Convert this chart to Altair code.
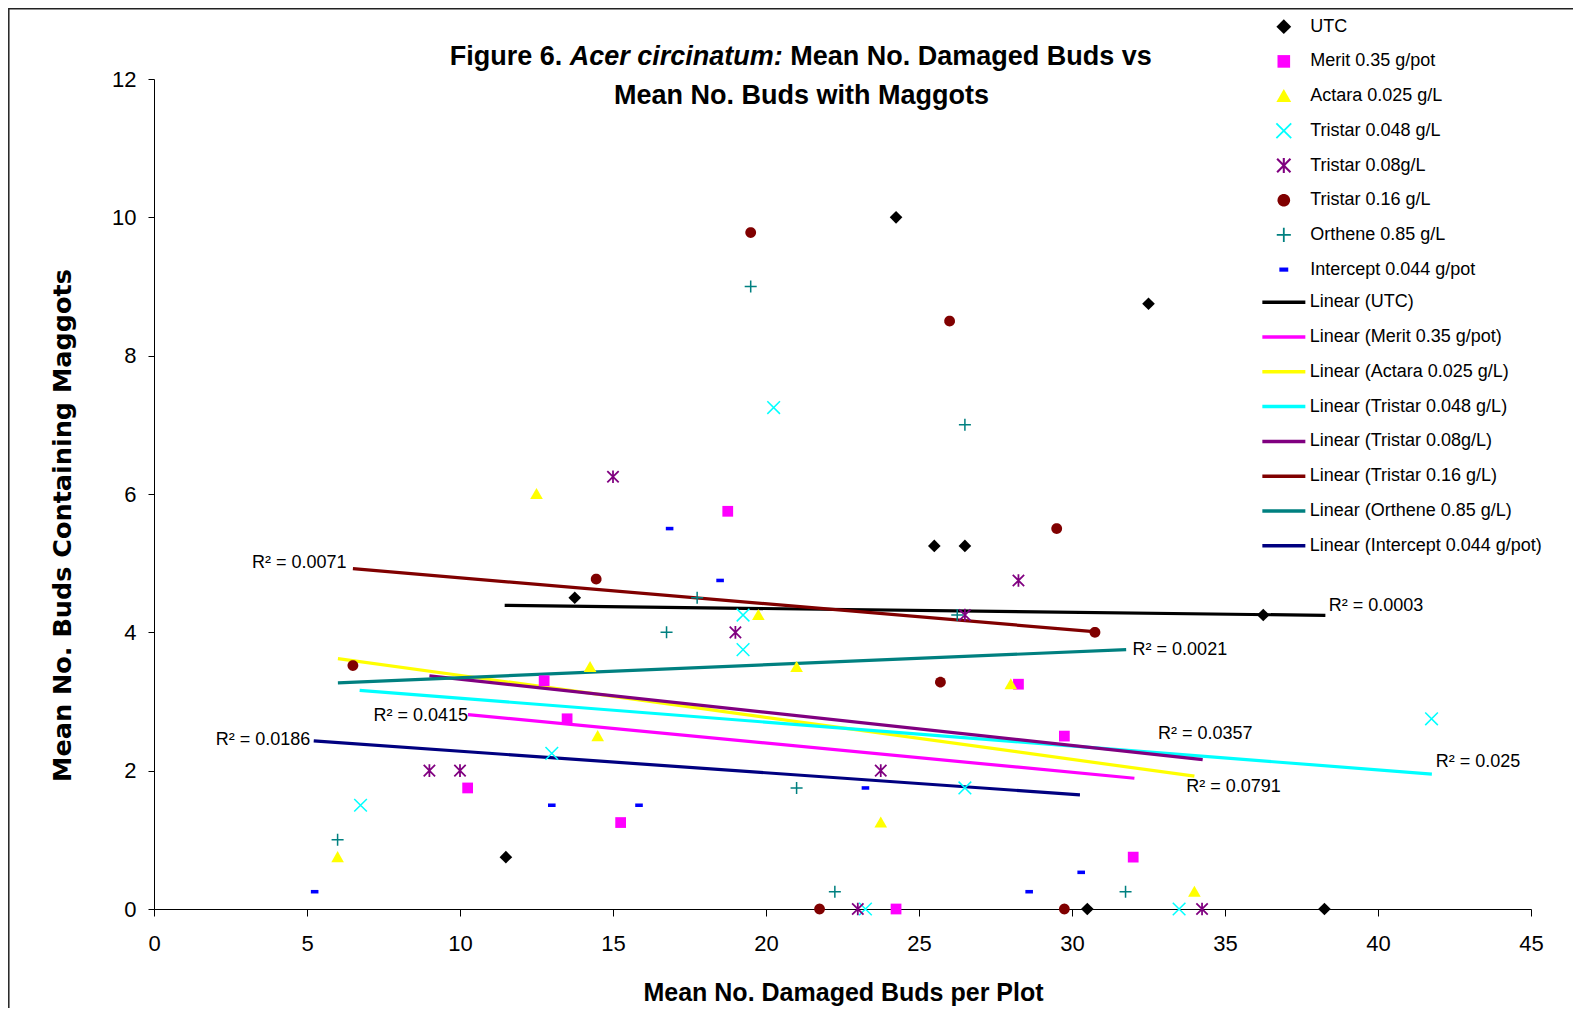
import math
import altair as alt
import pandas as pd

# ---------------- data ----------------
series_names = ["UTC", "Merit 0.35 g/pot", "Actara 0.025 g/L", "Tristar 0.048 g/L",
                "Tristar 0.08g/L", "Tristar 0.16 g/L", "Orthene 0.85 g/L",
                "Intercept 0.044 g/pot"]
trend_names = ["Linear (" + s + ")" for s in series_names]
point_colors = ["#000000", "#FF00FF", "#FFFF00", "#00FFFF", "#800080", "#800000",
                "#008080", "#0000FF"]
line_colors = ["#000000", "#FF00FF", "#FFFF00", "#00FFFF", "#800080", "#800000",
               "#008080", "#000080"]

utc_x = [11.5, 13.75, 24.25, 25.5, 26.5, 30.5, 32.5, 36.25, 38.25]
utc_y = [0.75, 4.5, 10.0, 5.25, 5.25, 0.0, 8.75, 4.25, 0.0]
merit_x = [10.25, 12.75, 13.5, 15.25, 18.75, 24.25, 28.25, 29.75, 32.0]
merit_y = [1.75, 3.3, 2.75, 1.25, 5.75, 0.0, 3.25, 2.5, 0.75]
actara_x = [6.0, 12.5, 14.25, 14.5, 19.75, 21.0, 23.75, 28.0, 34.0]
actara_y = [0.75, 6.0, 3.5, 2.5, 4.25, 3.5, 1.25, 3.25, 0.25]
tri048_x = [6.75, 13.0, 19.25, 19.25, 20.25, 23.25, 26.5, 33.5, 41.75]
tri048_y = [1.5, 2.25, 4.25, 3.75, 7.25, 0.0, 1.75, 0.0, 2.75]
tri08_x = [9.0, 10.0, 15.0, 19.0, 23.0, 23.75, 26.5, 28.25, 34.25]
tri08_y = [2.0, 2.0, 6.25, 4.0, 0.0, 2.0, 4.25, 4.75, 0.0]
tri16_x = [6.5, 14.45, 19.5, 21.75, 25.7, 26.0, 29.5, 29.75, 30.75]
tri16_y = [3.52, 4.77, 9.78, 0.0, 3.28, 8.5, 5.5, 0.0, 4.0]
orthene_x = [6.0, 16.75, 17.75, 19.5, 21.0, 22.25, 26.25, 26.5, 31.75]
orthene_y = [1.0, 4.0, 4.5, 9.0, 1.75, 0.25, 4.25, 7.0, 0.25]
intercept_x = [5.25, 13.0, 15.85, 16.85, 18.5, 23.25, 28.6, 30.3]
intercept_y = [0.25, 1.5, 1.5, 5.5, 4.75, 1.75, 0.25, 0.53]

all_x = [utc_x, merit_x, actara_x, tri048_x, tri08_x, tri16_x, orthene_x, intercept_x]
all_y = [utc_y, merit_y, actara_y, tri048_y, tri08_y, tri16_y, orthene_y, intercept_y]

# trendline end points (as drawn in the picture)
trend_x0 = [11.46, 10.26, 6.01, 6.72, 9.0, 6.5, 6.01, 5.22]
trend_y0 = [4.39, 2.81, 3.62, 3.16, 3.37, 4.92, 3.27, 2.43]
trend_x1 = [38.28, 32.04, 34.0, 41.76, 34.27, 30.71, 31.77, 30.26]
trend_y1 = [4.245, 1.89, 1.92, 1.95, 2.16, 4.01, 3.75, 1.65]

# R^2 labels
r2_left_text = ["R\u00b2 = 0.0071", "R\u00b2 = 0.0415", "R\u00b2 = 0.0186"]
r2_left_x = [6.29, 10.26, 5.11]
r2_left_y = [5.0, 2.79, 2.45]
r2_right_text = ["R\u00b2 = 0.0003", "R\u00b2 = 0.0021", "R\u00b2 = 0.0357",
                 "R\u00b2 = 0.0791", "R\u00b2 = 0.025"]
r2_right_x = [38.39, 31.98, 32.81, 33.73, 41.89]
r2_right_y = [4.385, 3.75, 2.53, 1.77, 2.13]

x_ticks = [0, 5, 10, 15, 20, 25, 30, 35, 40, 45]
y_ticks = [0, 2, 4, 6, 8, 10, 12]

title_part1 = "Figure 6."
title_part2 = "Acer circinatum:"
title_part3 = "Mean No. Damaged Buds vs"
title_line2 = "Mean No. Buds with Maggots"
x_title = "Mean No. Damaged Buds per Plot"
y_title = "Mean No. Buds Containing Maggots"

# ---------------- marker shapes (style) ----------------
def fmt(v):
    return ("%.3f" % v).rstrip("0").rstrip(".")

def poly(pts):
    return "M" + "L".join(fmt(a) + "," + fmt(b) for a, b in pts) + "Z"

def seg(p, q, w):
    dx, dy = q[0] - p[0], q[1] - p[1]
    L = math.hypot(dx, dy)
    nx, ny = -dy / L * w, dx / L * w
    return poly([(p[0] + nx, p[1] + ny), (q[0] + nx, q[1] + ny),
                 (q[0] - nx, q[1] - ny), (p[0] - nx, p[1] - ny)])

shape_diamond = "M0,-1L1,0L0,1L-1,0Z"
shape_square = poly([(-0.85, -0.85), (0.85, -0.85), (0.85, 0.85), (-0.85, 0.85)])
shape_triangle = poly([(0, -0.95), (1.0, 0.8), (-1.0, 0.8)])
shape_x = seg((-1, -1), (1, 1), 0.12) + seg((1, -1), (-1, 1), 0.12)
shape_star = (seg((-0.9, -0.9), (0.9, 0.9), 0.14) + seg((0.9, -0.9), (-0.9, 0.9), 0.14)
              + seg((0, -1), (0, 1), 0.14))
shape_circle = poly([(0.85 * math.cos(2 * math.pi * k / 32), 0.85 * math.sin(2 * math.pi * k / 32))
                     for k in range(32)])
shape_plus = seg((-0.95, 0), (0.95, 0), 0.12) + seg((0, -0.95), (0, 0.95), 0.12)
shape_dash = poly([(-0.6, -0.28), (0.6, -0.28), (0.6, 0.28), (-0.6, 0.28)])
point_shapes = [shape_diamond, shape_square, shape_triangle, shape_x, shape_star,
                shape_circle, shape_plus, shape_dash]

# ---------------- tables ----------------
pts_rows = []
for name, xs, ys in zip(series_names, all_x, all_y):
    for a, b in zip(xs, ys):
        pts_rows.append({"x": a, "y": b, "series": name})
pts_df = pd.DataFrame(pts_rows)

line_rows = []
for name, a0, b0, a1, b1 in zip(trend_names, trend_x0, trend_y0, trend_x1, trend_y1):
    line_rows.append({"x": a0, "y": b0, "trend": name})
    line_rows.append({"x": a1, "y": b1, "trend": name})
line_df = pd.DataFrame(line_rows)

r2l_df = pd.DataFrame({"x": r2_left_x, "y": r2_left_y, "label": r2_left_text})
r2r_df = pd.DataFrame({"x": r2_right_x, "y": r2_right_y, "label": r2_right_text})

# ---------------- layout ----------------
W, H = 1377, 830
FONT = "Liberation Sans"
PSIZE = 160
LSIZE = 220

x_axis = alt.Axis(values=x_ticks, title=x_title, titleFont=FONT, titleFontSize=25,
                  titleFontWeight="bold", titleColor="black", titleX=689, titleY=83,
                  titleBaseline="middle", titleAlign="center",
                  labelFont=FONT, labelFontSize=22, labelColor="black", labelPadding=17,
                  labelFlush=False, labelOverlap=False, tickSize=7, tickColor="black",
                  tickWidth=1, domainColor="black", domainWidth=1, grid=False, format="d")
y_axis = alt.Axis(values=y_ticks, title=y_title, titleFont="DejaVu Sans", titleFontSize=25.5,
                  titleFontWeight="bold", titleColor="black", titleX=-91.5, titleY=446,
                  titleAngle=270, titleBaseline="middle", titleAlign="center",
                  labelFont=FONT, labelFontSize=22, labelColor="black", labelPadding=12,
                  labelFlush=False, labelOverlap=False, tickSize=6, tickColor="black",
                  tickWidth=1, domainColor="black", domainWidth=1, grid=False, format="d")

X = alt.X("x:Q", scale=alt.Scale(domain=[0, 45], nice=False, zero=False), axis=x_axis)
Y = alt.Y("y:Q", scale=alt.Scale(domain=[0, 12], nice=False, zero=False), axis=y_axis)

pts_legend = alt.Legend(title=None, orient="none", legendX=1120.8, legendY=-61.3,
                        labelFont=FONT, labelFontSize=18, labelColor="black",
                        symbolSize=LSIZE, symbolStrokeWidth=0, rowPadding=16.7,
                        labelOffset=17.4, labelLimit=500, padding=0)
line_legend = alt.Legend(title=None, orient="none", legendX=1120.85, legendY=214.2,
                         labelFont=FONT, labelFontSize=18, labelColor="black",
                         symbolType="M-4.3,0L4.3,0", symbolSize=100, symbolStrokeWidth=3.5,
                         rowPadding=16.8, labelOffset=16.85, labelLimit=500, padding=0)

frame = alt.Chart(pd.DataFrame({"k": [0]})).mark_rect(
    fill="transparent", stroke="#222222", strokeWidth=1.5
).encode(x=alt.value(-145.2), x2=alt.value(W + 200), y=alt.value(-70.2), y2=alt.value(H + 200))

lines = alt.Chart(line_df).mark_line(strokeWidth=3.2).encode(
    x=X, y=Y,
    stroke=alt.Stroke("trend:N", scale=alt.Scale(domain=trend_names, range=line_colors),
                      legend=line_legend, sort=trend_names),
)

points = alt.Chart(pts_df).mark_point(filled=True, size=PSIZE, opacity=1).encode(
    x=X, y=Y,
    color=alt.Color("series:N", scale=alt.Scale(domain=series_names, range=point_colors),
                    legend=pts_legend, sort=series_names),
    shape=alt.Shape("series:N", scale=alt.Scale(domain=series_names, range=point_shapes),
                    legend=pts_legend, sort=series_names),
)

r2_left = alt.Chart(r2l_df).mark_text(align="right", baseline="middle", font=FONT,
                                       fontSize=18, color="black").encode(x=X, y=Y, text="label:N")
r2_right = alt.Chart(r2r_df).mark_text(align="left", baseline="middle", font=FONT,
                                        fontSize=18, color="black").encode(x=X, y=Y, text="label:N")

t1 = alt.Chart(pd.DataFrame({"t": [title_part1]})).mark_text(
    align="right", baseline="middle", font=FONT, fontSize=27, fontWeight="bold", color="black"
).encode(x=alt.value(408.2), y=alt.value(-22.5), text="t:N")
t2 = alt.Chart(pd.DataFrame({"t": [title_part2]})).mark_text(
    align="left", baseline="middle", font=FONT, fontSize=27, fontWeight="bold",
    fontStyle="italic", color="black"
).encode(x=alt.value(415.7), y=alt.value(-22.5), text="t:N")
t3 = alt.Chart(pd.DataFrame({"t": [title_part3]})).mark_text(
    align="left", baseline="middle", font=FONT, fontSize=27, fontWeight="bold", color="black"
).encode(x=alt.value(636.3), y=alt.value(-22.5), text="t:N")
t4 = alt.Chart(pd.DataFrame({"t": [title_line2]})).mark_text(
    align="center", baseline="middle", font=FONT, fontSize=27, fontWeight="bold", color="black"
).encode(x=alt.value(647.6), y=alt.value(16.8), text="t:N")

chart = alt.layer(frame, lines, points, r2_left, r2_right, t1, t2, t3, t4).properties(
    width=W, height=H,
    autosize=alt.AutoSizeParams(type="none"),
    padding={"left": 146, "top": 71, "right": 42, "bottom": 99},
    background="white",
).configure_view(stroke=None)

chart.save("out.html", embed_options={"renderer": "svg", "actions": False})
